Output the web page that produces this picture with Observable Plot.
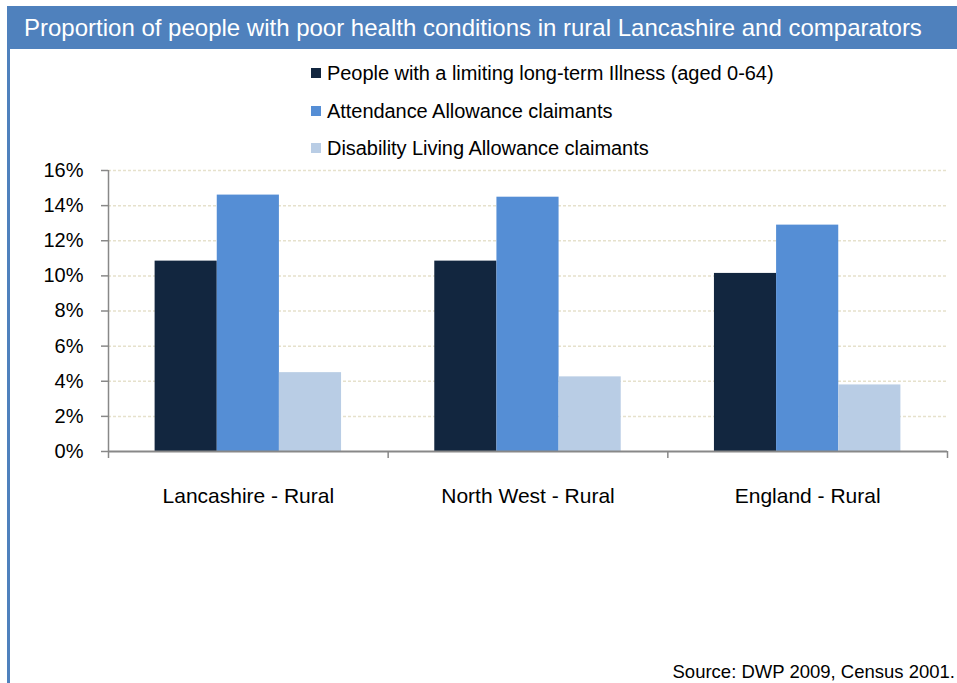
<!DOCTYPE html>
<html>
<head>
<meta charset="utf-8">
<script src="https://cdn.jsdelivr.net/npm/d3@7"></script>
<script src="https://cdn.jsdelivr.net/npm/@observablehq/plot@0.6"></script>
<style>
  html, body { margin: 0; padding: 0; background: #fff; }
  #wrap { position: relative; width: 957px; height: 683px; overflow: hidden; font-family: "Liberation Sans", Arial, sans-serif; }
  #titlebar { position: absolute; left: 7px; top: 6px; width: 950px; height: 43px; background: #4F81BD; }
  #title { position: absolute; left: 24px; top: 6px; height: 43px; line-height: 44px; color: #fff; font-size: 24px; letter-spacing: 0px; white-space: nowrap; }
  #leftborder { position: absolute; left: 7px; top: 49px; width: 3px; height: 634px; background: #4F81BD; }
  #legend { position: absolute; left: 311px; top: 60px; }
  .item { position: relative; height: 37.5px; font-size: 20px; color: #000; white-space: nowrap; }
  .sw { position: absolute; left: 0; top: 8px; width: 10px; height: 10px; }
  .lab { position: absolute; left: 16px; top: 0; line-height: 26px; letter-spacing: -0.05px; }
  #chart { position: absolute; left: 0; top: 150px; }
  #source { position: absolute; right: 2px; top: 661px; font-size: 18.5px; color: #000; white-space: nowrap; }
</style>
</head>
<body>
<div id="wrap">
  <div id="titlebar"></div>
  <div id="title"></div>
  <div id="leftborder"></div>
  <div id="legend"></div>
  <div id="chart"></div>
  <div id="source"></div>
</div>
<script>
const titleText = "Proportion of people with poor health conditions in rural Lancashire and comparators";
const sourceText = "Source: DWP 2009, Census 2001.";
const categories = ["Lancashire - Rural", "North West - Rural", "England - Rural"];
const seriesNames = [
  "People with a limiting long-term Illness (aged 0-64)",
  "Attendance Allowance claimants",
  "Disability Living Allowance claimants"
];
const seriesColors = ["#12263F", "#558ED5", "#B9CDE5"];
const illness = [10.84, 10.84, 10.14];
const attendance = [14.6, 14.48, 12.89];
const dla = [4.49, 4.25, 3.79];
const yTicks = [0, 2, 4, 6, 8, 10, 12, 14, 16];

const seriesValues = [illness, attendance, dla];
const table = [];
categories.forEach((c, ci) => {
  seriesNames.forEach((s, si) => {
    table.push({category: c, ci, series: s, si, value: seriesValues[si][ci]});
  });
});

document.getElementById("title").textContent = titleText;
document.getElementById("source").textContent = sourceText;

const legend = document.getElementById("legend");
seriesNames.forEach((s, i) => {
  const item = document.createElement("div");
  item.className = "item";
  const sw = document.createElement("div");
  sw.className = "sw";
  sw.style.background = seriesColors[i];
  const lab = document.createElement("div");
  lab.className = "lab";
  lab.textContent = s;
  item.appendChild(sw);
  item.appendChild(lab);
  legend.appendChild(item);
});

// group layout within each category slot (fractions of a slot)
const groupOffset = 1 / 6;
const barWidth = 2 / 9;

const chart = Plot.plot({
  width: 957,
  height: 370,
  marginLeft: 108,
  marginRight: 10,
  marginTop: 20,
  marginBottom: 69,
  style: { fontFamily: "'Liberation Sans', Arial, sans-serif", background: "transparent" },
  x: { domain: [0, categories.length], axis: null, label: null },
  y: { domain: [0, 16], axis: null, label: null },
  color: { domain: seriesNames, range: seriesColors },
  marks: [
    Plot.ruleY(yTicks.filter(d => d > 0), { stroke: "#E6E1CC", strokeWidth: 1.5, strokeDasharray: "3,2" }),
    Plot.rectY(table, {
      x1: d => d.ci + groupOffset + d.si * barWidth,
      x2: d => d.ci + groupOffset + (d.si + 1) * barWidth,
      y1: 0,
      y2: "value",
      fill: "series"
    }),
    Plot.axisY({ ticks: yTicks, tickFormat: d => d + "%", tickSize: 7, tickPadding: 18, fontSize: 20, stroke: "#888", strokeWidth: 1.5, color: "#000", label: null }),
    Plot.ruleX([0], { stroke: "#888", strokeWidth: 1.5 }),
    Plot.ruleY([0], { stroke: "#888", strokeWidth: 2 }),
    Plot.axisX({ ticks: d3.range(categories.length + 1), tickFormat: () => "", tickSize: 7, stroke: "#888", strokeWidth: 1.5, label: null }),
    Plot.axisX({ ticks: categories.map((c, i) => i + 0.5), tickFormat: d => categories[Math.floor(d)], tickSize: 0, tickPadding: 37, fontSize: 21, color: "#000", label: null })
  ]
});
document.getElementById("chart").appendChild(chart);
</script>
</body>
</html>
